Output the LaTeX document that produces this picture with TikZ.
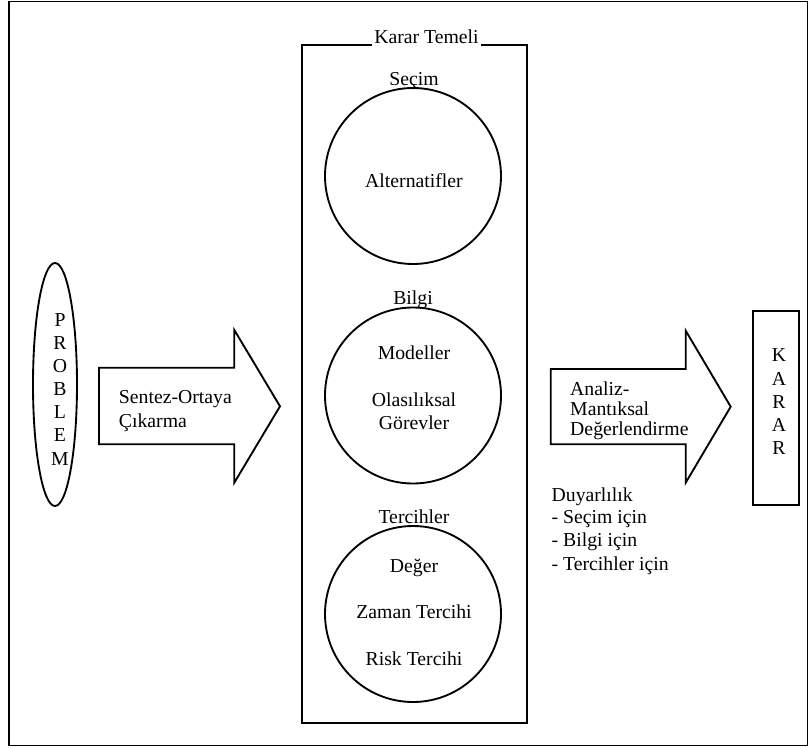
\documentclass[tikz,border=0pt]{standalone}
\usepackage{fontspec}
\setmainfont{Liberation Serif}
\usetikzlibrary{shapes.geometric}
\begin{document}
\begin{tikzpicture}[x=0.75pt,y=-0.75pt,line width=1.4pt,
  lbl/.style={font=\fontsize{14.8pt}{17pt}\selectfont, inner sep=0pt, anchor=base},
  lftlbl/.style={lbl, anchor=base west},
  circ/.style={draw, circle, minimum size=132pt, inner sep=0pt},
  blockarrow/.style={draw, line join=miter}]
\useasboundingbox (0,0) rectangle (809,748);

% outer frame
\draw (9,1.5) rectangle (807.5,745.5);

% problem ellipse with stacked letters
\node[draw, ellipse, minimum width=33pt, minimum height=182.25pt, inner sep=0pt] (problem) at (55,384.5) {};
\foreach \ch [count=\i] in {P,R,O,B,L,E,M}
  \node[lbl] (prob\i) at (60,{326.7+23.05*(\i-1)}) {\ch};

% synthesis arrow
\draw[blockarrow] (99,367.7) -- (234.3,367.7) -- (234.3,330) -- (280,406.3)
  -- (234.3,482.7) -- (234.3,444.3) -- (99,444.3) -- cycle;
\node[lftlbl] (synth1) at (118,403.3) {Sentez-Ortaya};
\node[lftlbl] (synth2) at (118,427.3) {Çıkarma};

% decision basis
\node[draw, minimum width=168.75pt, minimum height=508.5pt, inner sep=0pt] (basis) at (414.5,384) {};
\node[lbl, fill=white, inner xsep=1.5pt, inner ysep=2.6pt] (basislbl) at (426.5,43.3) {Karar Temeli};

% choice
\node[lbl] (choicelbl) at (414,86) {Seçim};
\node[circ] (choice) at (413,176) {};
\node[lbl] (alts) at (414,187.3) {Alternatifler};

% information
\node[lbl] (infolbl) at (413,304.3) {Bilgi};
\node[circ] (info) at (413,395.5) {};
\node[lbl] (models) at (414,359.3) {Modeller};
\node[lbl] (prob) at (414,406) {Olasılıksal};
\node[lbl] (tasks) at (414,429.3) {Görevler};

% preferences
\node[lbl] (preflbl) at (414,523) {Tercihler};
\node[circ] (pref) at (413,614) {};
\node[lbl] (value) at (414,572.7) {Değer};
\node[lbl] (timepref) at (414,618.3) {Zaman Tercihi};
\node[lbl] (riskpref) at (414,665) {Risk Tercihi};

% analysis arrow
\draw[blockarrow] (550.7,369) -- (685.7,369) -- (685.7,330.7) -- (730.7,406.7)
  -- (685.7,482.7) -- (685.7,444.3) -- (550.7,444.3) -- cycle;
\node[lftlbl] (anal1) at (569.3,395) {Analiz-};
\node[lftlbl] (anal2) at (569.3,415) {Mantıksal};
\node[lftlbl] (anal3) at (569.3,435) {Değerlendirme};

% sensitivity list
\node[lftlbl] (sens) at (550.7,501.7) {Duyarlılık};
\node[lftlbl] (sens1) at (550.7,523.3) {- Seçim için};
\node[lftlbl] (sens2) at (550.7,546.7) {- Bilgi için};
\node[lftlbl] (sens3) at (550.7,570) {- Tercihler için};

% decision box
\node[draw, minimum width=34.3pt, minimum height=145.5pt, inner sep=0pt] (decision) at (776.2,408) {};
\foreach \ch [count=\i] in {K,A,R,A,R}
  \node[lbl] (dec\i) at (779,{361.7+23.3*(\i-1)}) {\ch};
\end{tikzpicture}
\end{document}
